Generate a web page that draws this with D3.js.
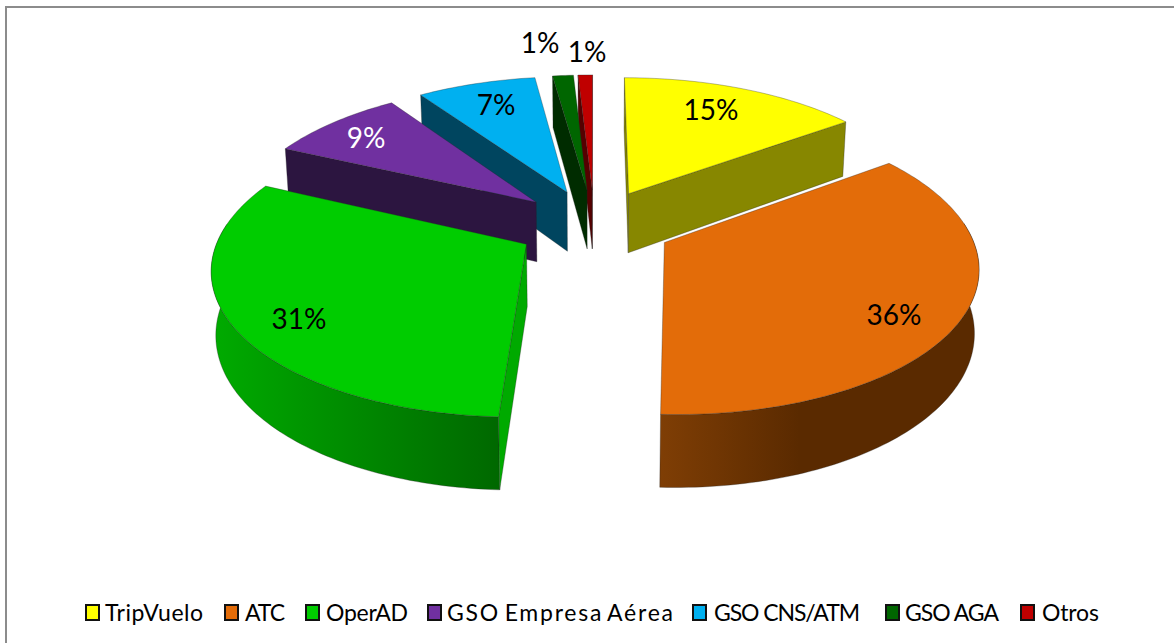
<!DOCTYPE html>
<html><head><meta charset="utf-8">
<script src="https://cdn.jsdelivr.net/npm/d3@7/dist/d3.min.js"></script>
<style>html,body{margin:0;padding:0;background:#fff}svg{display:block}text{font-family:Lato,"Open Sans",sans-serif}</style>
</head><body><svg id="c" width="1174" height="643"></svg>
<script>
// ---- data ----
const categories = ["TripVuelo","ATC","OperAD","GSO Empresa Aérea","GSO CNS/ATM","GSO AGA","Otros"];
const values = [15, 35.7, 31.2, 8.5, 7.4, 1.3, 0.9];
const labels = ["15%","36%","31%","9%","7%","1%","1%"];
const colors = ["#ffff00","#e36c09","#00cc00","#7030a0","#00b0f0","#006600","#c00000"];
const labelColors = ["#000","#000","#000","#fff","#000","#000","#000"];
const sideColors = ["#878700","#5a2a00","#00aa00","#2c1540","#00455f","#002c00","#560000"];
const wallFrom = ["#878700","#7f3e05","#00aa00","#2c1540","#00455f","#002c00","#560000"];
const wallTo   = ["#878700","#5a2a00","#006800","#2c1540","#00455f","#002c00","#560000"];
const labelPos = [[711,110],[894,315],[299,319],[366,138],[496,105],[540,43],[587,52]];
const legendSwatchX = [85,224,305,427,692,885,1020];
const legendTextX = [105,245,326,447,714,905,1042];
const legendTextW = [98,40,82,226,146,94,57];
const legendWordSpacing = [0,0,0,-3,0,0,0];

// ---- geometry ----
const svg = d3.select("#c");
const cx=594.4, cy=225, R=304, EXPL=78, K=0.465, P=0.00048, H=61, BOTTOM_SHRINK=0.988;
const pie = d3.pie().sort(null).startAngle(0).endAngle(2*Math.PI);
const arcs = pie(values);

function project(X,Y,z){ // z=0 top, z=1 bottom
  const w = 1+P*Y;
  const s = z? BOTTOM_SHRINK:1;
  return [cx + s*X/w, cy - K*Y/w + z*H/w];
}
function geom(a){
  const mid=(a.startAngle+a.endAngle)/2;
  const ox=EXPL*Math.sin(mid), oy=EXPL*Math.cos(mid);
  const rim = t=>[ox+R*Math.sin(t), oy+R*Math.cos(t)];
  const n=Math.max(3,Math.ceil((a.endAngle-a.startAngle)/0.02));
  const ts=d3.range(n+1).map(i=>a.startAngle+(a.endAngle-a.startAngle)*i/n);
  return {ox,oy,rim,ts};
}
const line=d3.line().curve(d3.curveLinear);
const defs=svg.append("defs");

// frame: left and top edges only reach the picture
svg.append("path").attr("d","M6,643V7H1174").attr("fill","none").attr("stroke","#8c8c8c").attr("stroke-width",2);

function poly(g,pts,fill){
  return g.append("path").attr("d",line(pts)+"Z").attr("fill",fill)
    .attr("stroke","#222").attr("stroke-opacity",0.45).attr("stroke-width",0.7).attr("stroke-linejoin","round");
}
// is a radial face at angle t seen from the camera?
function faceVisible(ox,oy,t,sign){
  const nx=sign*Math.cos(t), ny=-sign*Math.sin(t);
  return (0-ox)*nx + (-1/P-oy)*ny > 0;
}

// painter's order: far slices first
const order=[6,5,4,3,0,2,1];
order.forEach(i=>{
  const a=arcs[i], {ox,oy,rim,ts}=geom(a), g=svg.append("g");
  const apexT=project(ox,oy,0), apexB=project(ox,oy,1);
  const topRim=ts.map(t=>{const p=rim(t);return project(p[0],p[1],0)});
  const botRim=ts.map(t=>{const p=rim(t);return project(p[0],p[1],1)});
  const n=ts.length-1;
  // curved wall, only the part turned to the viewer
  const vis=d3.range(n+1).filter(j=>Math.cos(ts[j])<0.15);
  if(vis.length>1){
    const gid="w"+i, xs=vis.map(j=>botRim[j][0]), x0=d3.min(xs);
    const lg=defs.append("linearGradient").attr("id",gid).attr("gradientUnits","userSpaceOnUse")
      .attr("x1",x0).attr("x2",i===1?x0+140:d3.max(xs)).attr("y1",0).attr("y2",0);
    lg.append("stop").attr("offset",0).attr("stop-color",wallFrom[i]);
    lg.append("stop").attr("offset",1).attr("stop-color",wallTo[i]);
    poly(g,vis.map(j=>topRim[j]).concat(vis.map(j=>botRim[j]).reverse()),`url(#${gid})`);
  }
  // radial faces
  if(faceVisible(ox,oy,a.startAngle,-1)) poly(g,[apexT,topRim[0],botRim[0],apexB],sideColors[i]);
  if(faceVisible(ox,oy,a.endAngle,1)) poly(g,[apexT,topRim[n],botRim[n],apexB],sideColors[i]);
  // top face
  poly(g,[apexT].concat(topRim),colors[i]);
});

// value labels
svg.append("g").selectAll("text").data(labels).join("text")
  .attr("x",(d,i)=>labelPos[i][0]).attr("y",(d,i)=>labelPos[i][1]+10)
  .attr("text-anchor","middle").attr("font-size",28).attr("fill",(d,i)=>labelColors[i]).text(d=>d);

// legend
const lg=svg.append("g");
categories.forEach((c,i)=>{
  lg.append("rect").attr("x",legendSwatchX[i]+1).attr("y",605).attr("width",13).attr("height",15)
    .attr("fill",colors[i]).attr("stroke","#111").attr("stroke-width",2);
  lg.append("text").attr("x",legendTextX[i]).attr("y",621).attr("font-size",23).attr("fill","#000")
    .attr("word-spacing",legendWordSpacing[i]).attr("textLength",legendTextW[i]).attr("lengthAdjust","spacing").text(c);
});
</script></body></html>
